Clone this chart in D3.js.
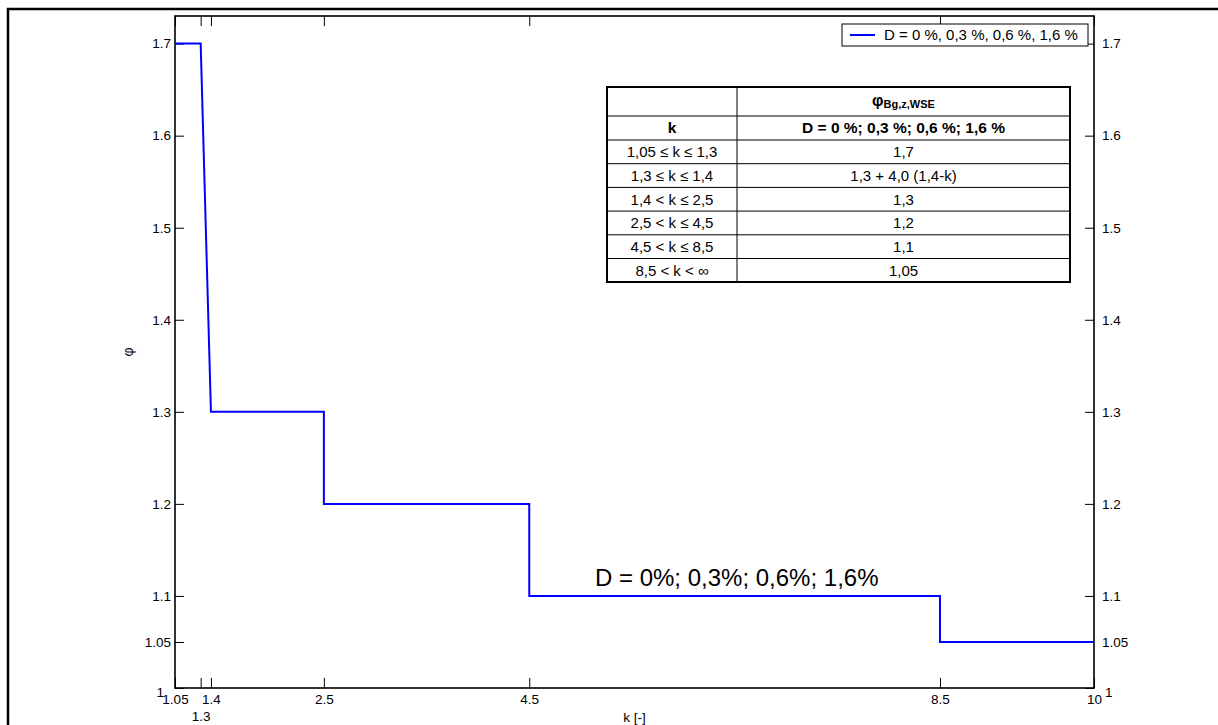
<!DOCTYPE html>
<html><head><meta charset="utf-8">
<script src="https://cdn.jsdelivr.net/npm/d3@7"></script>
<style>body{margin:0;background:#fff;overflow:hidden} text{font-family:"Liberation Sans",Arial,sans-serif;fill:#000}</style>
</head><body><svg id="c" width="1218" height="725"></svg>
<script>
const kValues = [1.05, 1.3, 1.4, 2.5, 2.5, 4.5, 4.5, 8.5, 8.5, 10];
const phiValues = [1.7, 1.7, 1.3, 1.3, 1.2, 1.2, 1.1, 1.1, 1.05, 1.05];
const xTickValues = [1.05, 1.3, 1.4, 2.5, 4.5, 8.5, 10];
const xTickLabels = ["1.05", "1.3", "1.4", "2.5", "4.5", "8.5", "10"];
const yTickValues = [1, 1.05, 1.1, 1.2, 1.3, 1.4, 1.5, 1.6, 1.7];
const yTickLabels = ["1", "1.05", "1.1", "1.2", "1.3", "1.4", "1.5", "1.6", "1.7"];
const seriesName = "D = 0 %, 0,3 %, 0,6 %, 1,6 %";
const annotationText = "D = 0%; 0,3%; 0,6%; 1,6%";
const xLabel = "k [-]";
const yLabel = "φ";
const tableColHead = ["k", "D = 0 %; 0,3 %; 0,6 %; 1,6 %"];
const tableRanges = ["1,05 ≤ k ≤ 1,3", "1,3 ≤ k ≤ 1,4", "1,4 < k ≤ 2,5", "2,5 < k ≤ 4,5", "4,5 < k ≤ 8,5", "8,5 < k < ∞"];
const tableValues = ["1,7", "1,3 + 4,0 (1,4-k)", "1,3", "1,2", "1,1", "1,05"];

const svg = d3.select("#c");
const L = 175, R = 1094, T = 16, B = 688;
const x = d3.scaleLinear().domain([1.05, 10]).range([L, R]);
const y = d3.scaleLinear().domain([1, 1.73]).range([B, T]);

// outer frame
svg.append("rect").attr("x", 8).attr("y", 9).attr("width", 1300).attr("height", 800)
  .attr("fill", "none").attr("stroke", "#000").attr("stroke-width", 2.5);

const fmtX = d => xTickLabels[xTickValues.indexOf(d)];
const fmtY = d => yTickLabels[yTickValues.indexOf(d)];

const gb = svg.append("g").attr("transform", `translate(0,${B})`)
  .call(d3.axisBottom(x).tickValues(xTickValues).tickFormat(fmtX).tickSize(-10).tickPadding(6));
const gt = svg.append("g").attr("transform", `translate(0,${T})`)
  .call(d3.axisTop(x).tickValues(xTickValues).tickFormat("").tickSize(-10));
const gl = svg.append("g").attr("transform", `translate(${L},0)`)
  .call(d3.axisLeft(y).tickValues(yTickValues).tickFormat(fmtY).tickSize(-9).tickPadding(4));
const gr = svg.append("g").attr("transform", `translate(${R},0)`)
  .call(d3.axisRight(y).tickValues(yTickValues).tickFormat(fmtY).tickSize(-9).tickPadding(8));

[gb, gt, gl, gr].forEach(g => {
  g.select(".domain").remove();
  g.selectAll("line").attr("stroke", "#000").attr("stroke-width", 1);
  g.selectAll("text").attr("font-size", 13.5).attr("font-family", '"Liberation Sans",Arial,sans-serif').attr("fill", "#000");
});
// staggered label for 1.3
gb.selectAll(".tick").filter(d => d === 1.3).select("text").attr("y", 23);
// corner labels "1"
gl.selectAll(".tick").filter(d => d === 1).select("text").attr("x", -11).attr("y", 4);
gr.selectAll(".tick").filter(d => d === 1).select("text").attr("x", 11).attr("y", 4);

// plot frame
svg.append("rect").attr("x", L).attr("y", T).attr("width", R - L).attr("height", B - T)
  .attr("fill", "none").attr("stroke", "#000").attr("stroke-width", 1.6);

// series
const pts = kValues.map((k, i) => [k, phiValues[i]]);
svg.append("path").datum(pts)
  .attr("d", d3.line().x(d => x(d[0])).y(d => y(d[1])))
  .attr("fill", "none").attr("stroke", "#0000ff").attr("stroke-width", 2);

// annotation
svg.append("text").attr("x", 595).attr("y", 586).attr("font-size", 24).text(annotationText);

// axis labels
svg.append("text").attr("x", (L + R) / 2).attr("y", 722).attr("text-anchor", "middle").attr("font-size", 13.5).text(xLabel);
svg.append("text").attr("transform", `translate(133,${(T + B) / 2}) rotate(-90)`)
  .attr("text-anchor", "middle").attr("font-size", 14).text(yLabel);

// legend
svg.append("rect").attr("x", 842).attr("y", 24).attr("width", 246).attr("height", 22)
  .attr("fill", "#fff").attr("stroke", "#000").attr("stroke-width", 1);
svg.append("line").attr("x1", 850).attr("x2", 875).attr("y1", 35).attr("y2", 35)
  .attr("stroke", "#0000ff").attr("stroke-width", 2);
svg.append("text").attr("x", 884).attr("y", 35).attr("dy", "0.35em").attr("font-size", 15).text(seriesName);

// table
const tx0 = 607, tx1 = 737, tx2 = 1070;
const rowsY = [87, 116, 140, 163.7, 187.4, 211.1, 234.8, 258.5, 282];
const tg = svg.append("g");
tg.append("rect").attr("x", tx0).attr("y", rowsY[0]).attr("width", tx2 - tx0).attr("height", rowsY[8] - rowsY[0])
  .attr("fill", "#fff").attr("stroke", "none");
rowsY.slice(1, 8).forEach(yy => tg.append("line").attr("x1", tx0).attr("x2", tx2).attr("y1", yy).attr("y2", yy)
  .attr("stroke", "#000").attr("stroke-width", 1));
tg.append("line").attr("x1", tx1).attr("x2", tx1).attr("y1", rowsY[0]).attr("y2", rowsY[8]).attr("stroke", "#000").attr("stroke-width", 1);
tg.append("rect").attr("x", tx0).attr("y", rowsY[0]).attr("width", tx2 - tx0).attr("height", rowsY[8] - rowsY[0])
  .attr("fill", "none").attr("stroke", "#000").attr("stroke-width", 2);
const c1 = (tx0 + tx1) / 2, c2 = (tx1 + tx2) / 2;
const mid = i => (rowsY[i] + rowsY[i + 1]) / 2;
const head = tg.append("text").attr("x", c2).attr("y", mid(0)).attr("dy", "0.3em").attr("text-anchor", "middle")
  .attr("font-weight", "bold").attr("font-size", 16);
head.append("tspan").text("φ");
head.append("tspan").attr("font-size", 11).attr("dy", 2).text("Bg,z,WSE");
tg.append("text").attr("x", c1).attr("y", mid(1)).attr("dy", "0.35em").attr("text-anchor", "middle")
  .attr("font-weight", "bold").attr("font-size", 15.5).text(tableColHead[0]);
tg.append("text").attr("x", c2).attr("y", mid(1)).attr("dy", "0.35em").attr("text-anchor", "middle")
  .attr("font-weight", "bold").attr("font-size", 15.5).text(tableColHead[1]);
tableRanges.forEach((r, i) => {
  tg.append("text").attr("x", c1).attr("y", mid(i + 2)).attr("dy", "0.35em").attr("text-anchor", "middle")
    .attr("font-size", 15).text(r);
  tg.append("text").attr("x", c2).attr("y", mid(i + 2)).attr("dy", "0.35em").attr("text-anchor", "middle")
    .attr("font-size", 15).text(tableValues[i]);
});
</script></body></html>
